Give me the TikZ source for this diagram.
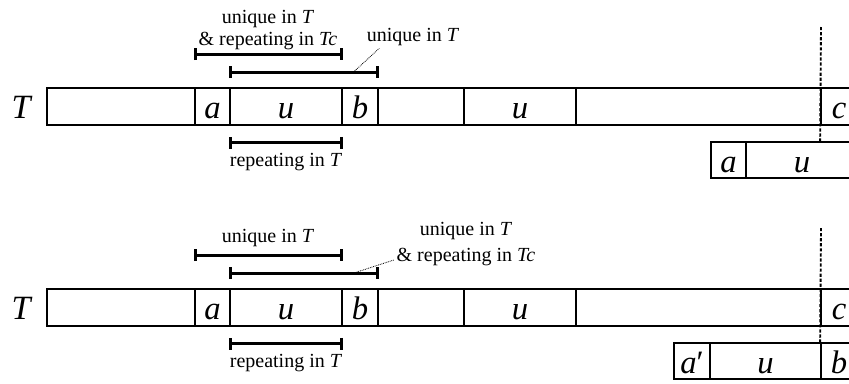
\documentclass[tikz,border=0pt]{standalone}
\usepackage{fontspec}
\setmainfont{Liberation Serif}
\usetikzlibrary{arrows.meta,calc}
\newcommand\mkcell[6]{\node[cell, minimum width={(#3-#2)*0.75pt}, minimum height={(#5-#4)*0.75pt}] (#1) at ({(#2+#3)/2},{(#4+#5)/2}) {#6};}
\tikzset{
  cell/.style={draw, line width=1.3pt, inner sep=0pt, text height=18.6pt, text depth=0pt, font=\fontsize{24.5pt}{24.5pt}\selectfont},
  big/.style={inner sep=0pt, font=\fontsize{25.5pt}{25.5pt}\selectfont},
  lbl/.style={inner sep=1pt, align=center, font=\fontsize{15pt}{16.5pt}\selectfont},
  brk/.style={line width=2.3pt, {Bar[width=9pt]}-{Bar[width=9pt]}},
  vdash/.style={line width=1.4pt, dash pattern=on 2.4pt off 1.4pt},
  leader/.style={line width=0.6pt, dash pattern=on 0.6pt off 0.7pt}
}
\begin{document}
\begin{tikzpicture}[x=0.75pt,y=-0.75pt]
\clip (0,0) rectangle (849,383);
% ---------------- top panel ----------------
\node[big] (Tl1) at (22,107) {\textit{T}};
\mkcell{T1}{47}{900}{88}{125}{}
\mkcell{a1}{195}{230}{88}{125}{\textit{a}}
\mkcell{u1}{230}{342}{88}{125}{\textit{u}}
\mkcell{b1}{342}{378}{88}{125}{\textit{b}}
\mkcell{v1}{464}{576}{88}{125}{\textit{u}}
\mkcell{c1}{821}{857}{88}{125}{\textit{c}}
\mkcell{a2}{711}{746}{142}{178}{\textit{a}}
\mkcell{u2}{746}{858}{142}{178}{\textit{u}}
\coordinate (d1) at (821,27);
\draw[vdash] (d1) -- (c1.south west |- a2.north);
\draw[brk] ($(a1.north west)+(0,-33)$) -- ($(u1.north east)+(0,-33)$);
\draw[brk] ($(u1.north west)+(0,-15)$) -- coordinate[pos=0.83] (ld1) ($(b1.north east)+(0,-15)$);
\draw[brk] ($(u1.south west)+(0,17)$) -- ($(u1.south east)+(0,17)$);
\node[lbl] (L1) at (268,30) {unique in \textit{T}\\\& repeating in \textit{Tc}};
\node[lbl] (L2) at (413,37) {unique in \textit{T}};
\node[lbl] (L3) at (286,162) {repeating in \textit{T}};
\draw[leader] (ld1) -- ($(L2.south west)+(14,1)$);
% ---------------- bottom panel ----------------
\node[big] (Tl2) at (22,308) {\textit{T}};
\mkcell{T2}{47}{900}{289}{326}{}
\mkcell{a3}{195}{230}{289}{326}{\textit{a}}
\mkcell{u3}{230}{342}{289}{326}{\textit{u}}
\mkcell{b3}{342}{378}{289}{326}{\textit{b}}
\mkcell{v3}{464}{576}{289}{326}{\textit{u}}
\mkcell{c3}{821}{857}{289}{326}{\textit{c}}
\mkcell{a4}{674}{710}{343}{379}{\textit{a}′}
\mkcell{u4}{710}{821}{343}{379}{\textit{u}}
\mkcell{b4}{821}{857}{343}{379}{\textit{b}}
\coordinate (d2) at (821,228);
\draw[vdash] (d2) -- (c3.south west |- b4.north);
\draw[brk] ($(a3.north west)+(0,-33)$) -- ($(u3.north east)+(0,-33)$);
\draw[brk] ($(u3.north west)+(0,-15)$) -- coordinate[pos=0.83] (ld2) ($(b3.north east)+(0,-15)$);
\draw[brk] ($(u3.south west)+(0,17)$) -- ($(u3.south east)+(0,17)$);
\node[lbl] (L4) at (268,238) {unique in \textit{T}};
\node[lbl, font=\fontsize{15pt}{18.8pt}\selectfont] (L5) at (466,244) {unique in \textit{T}\\\& repeating in \textit{Tc}};
\node[lbl] (L6) at (286,363) {repeating in \textit{T}};
\draw[leader] (ld2) -- ($(L5.south west)+(-1,-7)$);
\end{tikzpicture}
\end{document}
